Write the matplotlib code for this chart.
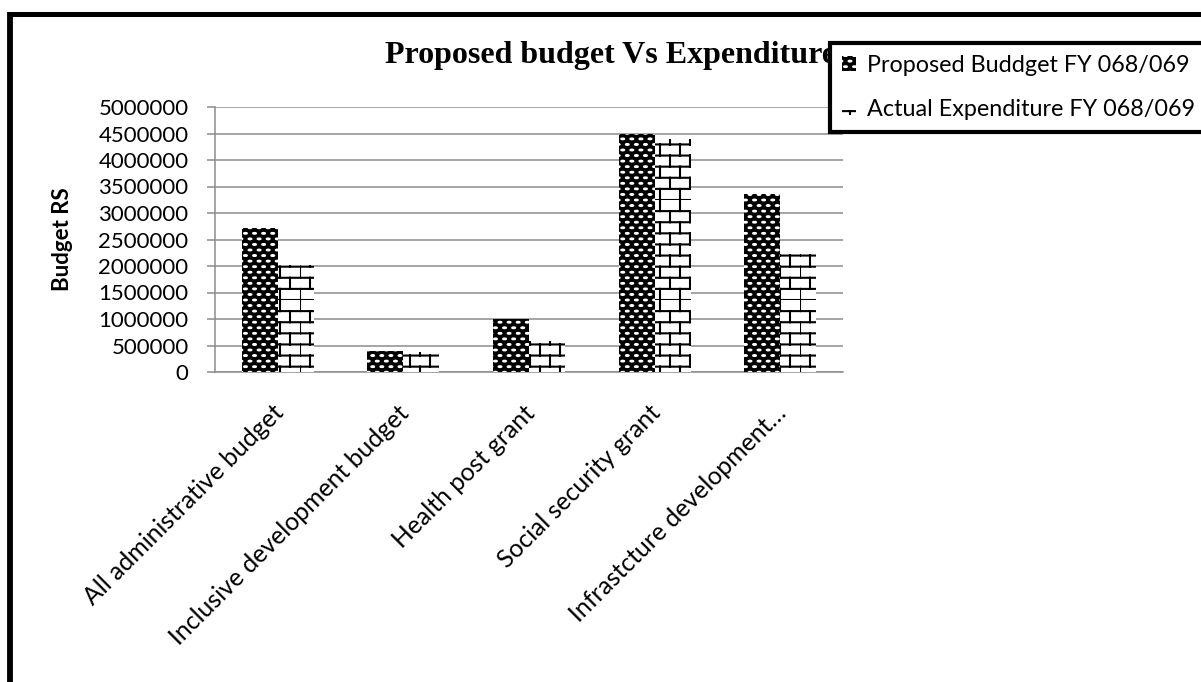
import warnings

import matplotlib
matplotlib.use("Agg")
import matplotlib.hatch as mhatch
import matplotlib.pyplot as plt
import matplotlib.transforms as mtransforms
import numpy as np
from matplotlib.lines import Line2D
from matplotlib.path import Path

warnings.filterwarnings("ignore", category=matplotlib.MatplotlibDeprecationWarning)

categories = [
    "All administrative budget",
    "Inclusive development budget",
    "Health post grant",
    "Social security grant",
    "Infrastcture development…",
]
proposed = [2720000, 400000, 1000000, 4500000, 3360000]
actual = [2010000, 380000, 590000, 4400000, 2230000]
series_labels = ["Proposed Buddget FY 068/069", "Actual Expenditure FY 068/069"]
yticks = [0, 500000, 1000000, 1500000, 2000000, 2500000,
          3000000, 3500000, 4000000, 4500000, 5000000]


class BrickHatch(mhatch.HatchPatternBase):
    """Brick wall pattern, selected with 'b' in the hatch string."""
    rows, cols = 9, 5

    def __init__(self, hatch, density):
        on = "b" in hatch
        self.num_vertices = (self.rows * 2 + self.rows * self.cols * 2) if on else 0

    def set_vertices_and_codes(self, vertices, codes):
        h, w = 1.0 / self.rows, 1.0 / self.cols
        i = 0
        for r in range(self.rows):
            y = r * h
            vertices[i] = (0.0, y)
            vertices[i + 1] = (1.0, y)
            codes[i], codes[i + 1] = Path.MOVETO, Path.LINETO
            i += 2
            shift = 0.0 if r % 2 == 0 else w / 2
            for c in range(self.cols):
                x = c * w + shift
                vertices[i] = (x, y)
                vertices[i + 1] = (x, y + h)
                codes[i], codes[i + 1] = Path.MOVETO, Path.LINETO
                i += 2


class OvalHatch(mhatch.HatchPatternBase):
    """Staggered small filled ovals, selected with 'e' in the hatch string."""
    nrow, ncol = 18, 11
    rx, ry = 0.014, 0.004

    def __init__(self, hatch, density):
        circle = Path.unit_circle()
        self.cv, self.cc = circle.vertices, circle.codes
        n = sum((self.ncol + 1) if r % 2 == 0 else self.ncol
                for r in range(self.nrow + 1))
        self.num_vertices = n * len(self.cv) if "e" in hatch else 0

    def set_vertices_and_codes(self, vertices, codes):
        k = len(self.cv)
        i = 0
        for r in range(self.nrow + 1):
            y = r / self.nrow
            if r % 2 == 0:
                xs = np.arange(self.ncol + 1) / self.ncol
            else:
                xs = (np.arange(self.ncol) + 0.5) / self.ncol
            for x in xs:
                vertices[i:i + k] = self.cv * [self.rx, self.ry] + [x, y]
                codes[i:i + k] = self.cc
                i += k


mhatch._hatch_types.extend([BrickHatch, OvalHatch])

plt.rcParams["font.family"] = ["Lato", "DejaVu Sans"]
plt.rcParams["hatch.linewidth"] = 1.5

W, H = 1201, 682
fig = plt.figure(figsize=(W / 100, H / 100), dpi=100)
fig.patch.set_facecolor("white")

# plot area in pixel terms
x0, x1, y_top, y_bot = 215, 843, 107, 372
ax = fig.add_axes([x0 / W, 1 - y_bot / H, (x1 - x0) / W, (y_bot - y_top) / H])

x = np.arange(len(categories))
bw = 0.287
b1 = ax.bar(x - bw / 2, proposed, bw, facecolor="black", edgecolor="white",
            linewidth=0, hatch="e", zorder=3, label=series_labels[0])
b2 = ax.bar(x + bw / 2, actual, bw, facecolor="white", edgecolor="black",
            linewidth=0, hatch="b", zorder=3, label=series_labels[1])

grid_c = "#8c8c8c"
ax.set_xlim(-0.5, len(categories) - 0.5)
ax.set_ylim(0, 5000000)
ax.set_yticks(yticks)
ax.set_yticklabels([str(v) for v in yticks])
ax.yaxis.grid(True, color=grid_c, linewidth=1.1, zorder=0)
ax.set_axisbelow(True)
for s in ("top", "right"):
    ax.spines[s].set_visible(False)
for s in ("left", "bottom"):
    ax.spines[s].set_color(grid_c)
    ax.spines[s].set_linewidth(1.1)

ax.tick_params(axis="y", direction="out", length=6, width=1.1, color=grid_c,
               pad=13, labelsize=16)
ax.tick_params(axis="x", length=0, pad=21, labelsize=17.8)
ax.set_xticks(x)
ax.set_xticklabels(categories, rotation=45, ha="right", rotation_mode="anchor")
# nudge the slanted category labels a little to the left
shift = mtransforms.ScaledTranslation(-6 / 100, 0, fig.dpi_scale_trans)
for lab in ax.get_xticklabels():
    lab.set_transform(lab.get_transform() + shift)

ax.set_ylabel("Budget RS", fontsize=16, fontweight="bold")
ax.yaxis.set_label_coords((73 - x0) / (x1 - x0), 0.5)

fig.text(385 / W, 1 - 63 / H, "Proposed budget Vs Expenditure",
         family="Liberation Serif", fontweight="bold", fontsize=23,
         ha="left", va="baseline", zorder=3)

leg = fig.legend(handles=[b1, b2], loc="upper left",
                 bbox_to_anchor=(830 / W, 1 - 43 / H), borderaxespad=0,
                 fontsize=16.8, handlelength=0.6, handleheight=0.6,
                 handletextpad=0.5, borderpad=0.5, labelspacing=1.0,
                 fancybox=False, framealpha=1, edgecolor="black")
leg.get_frame().set_linewidth(3)
leg.set_zorder(5)

# outer frame edges
fig.add_artist(Line2D([8 / W, 1.0], [1 - 14 / H, 1 - 14 / H],
                      color="black", linewidth=3.6, solid_capstyle="butt"))
fig.add_artist(Line2D([10 / W, 10 / W], [1 - 12 / H, 0.0],
                      color="black", linewidth=4.2, solid_capstyle="butt"))

fig.savefig("out.png", dpi=100)
